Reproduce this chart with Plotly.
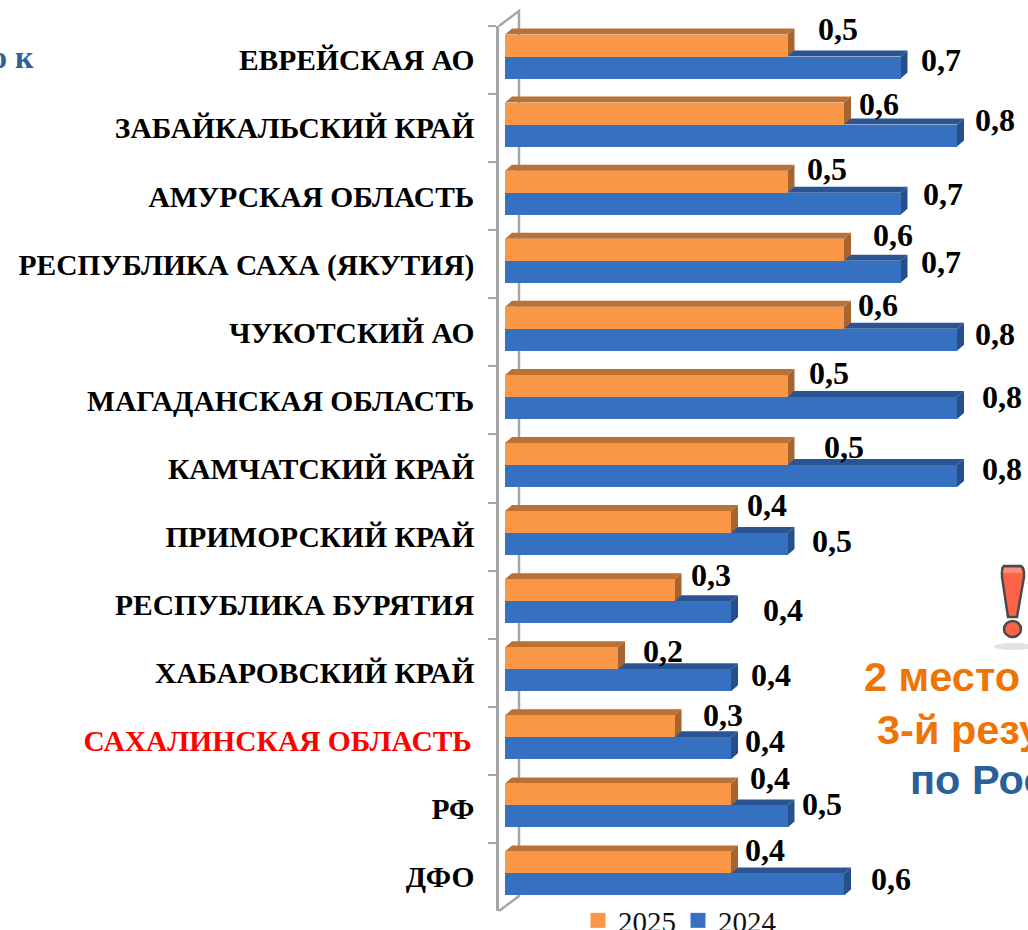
import plotly.graph_objects as go

CATEGORIES = ["ЕВРЕЙСКАЯ АО", "ЗАБАЙКАЛЬСКИЙ КРАЙ", "АМУРСКАЯ ОБЛАСТЬ", "РЕСПУБЛИКА САХА (ЯКУТИЯ)",
              "ЧУКОТСКИЙ АО", "МАГАДАНСКАЯ ОБЛАСТЬ", "КАМЧАТСКИЙ КРАЙ", "ПРИМОРСКИЙ КРАЙ",
              "РЕСПУБЛИКА БУРЯТИЯ", "ХАБАРОВСКИЙ КРАЙ", "САХАЛИНСКАЯ ОБЛАСТЬ", "РФ", "ДФО"]
HIGHLIGHT = "САХАЛИНСКАЯ ОБЛАСТЬ"
VALUES_2025 = [0.5, 0.6, 0.5, 0.6, 0.6, 0.5, 0.5, 0.4, 0.3, 0.2, 0.3, 0.4, 0.4]
VALUES_2024 = [0.7, 0.8, 0.7, 0.7, 0.8, 0.8, 0.8, 0.5, 0.4, 0.4, 0.4, 0.5, 0.6]

# free-floating data-label nudges, in pixels
SHIFT_X_2025 = [50, 35, 39, 49, 34, 41, 56, 36, 36, 45, 48, 39, 34]
SHIFT_Y_2025 = [31, 24, 27, 29, 27, 27, 22, 32, 30, 22, 26, 31, 27]
SHIFT_X_2024 = [40, 38, 42, 40, 38, 45, 45, 44, 52, 40, 34, 34, 47]
SHIFT_Y_2024 = [0, 8, 2, 2, -2, 3, 0, -4, -5, -2, 0, 5, -2]

W, H = 1028, 930
PLOT_L, PLOT_T, PLOT_B = 499, 26, 911
PX_PER_UNIT = 565.0
PX_PER_ROW = (PLOT_B - PLOT_T) / len(CATEGORIES)
ZERO_PX = 505

ORANGE, ORANGE_TOP, ORANGE_SIDE = "#F99747", "#BA7136", "#A7642E"
BLUE, BLUE_TOP, BLUE_SIDE = "#3671C1", "#2A5492", "#25508C"
GREY = "#A6A6A6"
SERIF = "Liberation Serif"
SANS = "Liberation Sans"

labels = [(f'<span style="color:#FF0000">{c}\u200a</span>' if c == HIGHLIGHT else c) for c in CATEGORIES]

BAR_ROWS = 22 / PX_PER_ROW
SHIFT_ROWS = -3.5 / PX_PER_ROW
DX = 7 / PX_PER_UNIT
DY = 6 / PX_PER_ROW


def px_x(px):
    return (px - PLOT_L) / (W - PLOT_L)


def px_y(px):
    return (PLOT_B - px) / (PLOT_B - PLOT_T)


def para(x0, x1, y0, y1, color):
    return dict(type="path", layer="below", xref="x", yref="y", line=dict(width=0), fillcolor=color,
                path=f"M{x0},{y0} L{x0 + DX},{y0 - DY} L{x1 + DX},{y1 - DY} L{x1},{y1} Z")


def box3d(value, top, bottom, top_color, side_color):
    return [
        para(0, value, top, top, top_color),
        dict(type="path", layer="below", xref="x", yref="y", line=dict(width=0), fillcolor=side_color,
             path=f"M{value},{top} L{value + DX},{top - DY} L{value + DX},{bottom - DY} L{value},{bottom} Z"),
    ]


def pxpath(points, close=True):
    return "M" + " L".join(f"{px_x(a)},{px_y(b)}" for a, b in points) + (" Z" if close else "")


n = len(CATEGORIES)
shapes = []
# wall frame of the 3-D chart box
shapes.append(dict(type="path", layer="below", xref="paper", yref="paper", line=dict(color=GREY, width=2.5),
                   path=pxpath([(PLOT_L, PLOT_T), (PLOT_L + 20, PLOT_T - 15), (PLOT_L + 20, PLOT_B - 15), (PLOT_L, PLOT_B)], close=False)))
for i, v24 in enumerate(VALUES_2024):
    mid = i + SHIFT_ROWS
    shapes += box3d(v24, mid, mid + BAR_ROWS, BLUE_TOP, BLUE_SIDE)
for i, v25 in enumerate(VALUES_2025):
    mid = i + SHIFT_ROWS
    shapes += box3d(v25, mid - BAR_ROWS, mid, ORANGE_TOP, ORANGE_SIDE)

# exclamation mark pictogram
shapes += [
    dict(type="circle", xref="paper", yref="paper", x0=px_x(994), x1=px_x(1032), y0=px_y(650), y1=px_y(643),
         fillcolor="#E2E2E2", line=dict(width=0)),
    dict(type="path", xref="paper", yref="paper", fillcolor="#FF6347", line=dict(color="#4A4A4A", width=2.5),
         path=pxpath([(1004, 566), (1021, 566), (1023, 568), (1024, 572), (1024, 577), (1017, 617), (1008, 617),
                      (1002, 577), (1002, 572), (1002.5, 568)])),
    dict(type="path", xref="paper", yref="paper", fillcolor="#FF8B78", line=dict(width=0),
         path=pxpath([(1004, 568), (1021, 568), (1022, 573), (1003, 573)])),
    dict(type="circle", xref="paper", yref="paper", x0=px_x(1004), x1=px_x(1021), y0=px_y(637), y1=px_y(621),
         fillcolor="#FF6347", line=dict(color="#4A4A4A", width=2.5)),
]

annotations = []
LABEL_FONT = dict(family=SERIF, size=32, color="#000000", weight=700)
for i, c in enumerate(labels):
    annotations.append(dict(x=VALUES_2025[i], y=c, xref="x", yref="y", text=f"{VALUES_2025[i]}".replace(".", ","),
                            xshift=SHIFT_X_2025[i], yshift=SHIFT_Y_2025[i], showarrow=False, font=LABEL_FONT))
    annotations.append(dict(x=VALUES_2024[i], y=c, xref="x", yref="y", text=f"{VALUES_2024[i]}".replace(".", ","),
                            xshift=SHIFT_X_2024[i], yshift=SHIFT_Y_2024[i], showarrow=False, font=LABEL_FONT))

side_texts = [("2 место в ДФО", 862, 676, "#EE7505"), ("3-й результат", 875, 729, "#EE7505"), ("по России", 908, 779, "#2A6099")]
for text, px, py, col in side_texts:
    annotations.append(dict(xref="paper", yref="paper", x=px_x(px), y=px_y(py), xanchor="left", yanchor="middle",
                            text=text, showarrow=False, font=dict(family=SANS, size=41.5, color=col, weight=700)))
annotations.append(dict(xref="paper", yref="paper", x=px_x(36), y=px_y(57), xanchor="right", yanchor="middle",
                        text="о к", showarrow=False, font=dict(family=SERIF, size=32, color="#2F5F97", weight=700)))

fig = go.Figure()
fig.add_bar(name="2025", y=labels, x=VALUES_2025, orientation="h", marker=dict(color=ORANGE, line=dict(width=0)),
            offset=SHIFT_ROWS - BAR_ROWS, width=BAR_ROWS, showlegend=False)
fig.add_bar(name="2024", y=labels, x=VALUES_2024, orientation="h", marker=dict(color=BLUE, line=dict(width=0)),
            offset=SHIFT_ROWS, width=BAR_ROWS, showlegend=False)
for name, col in (("2025", ORANGE), ("2024", BLUE)):
    fig.add_scatter(name=name, x=[None], y=[None], mode="markers", marker=dict(symbol="square", size=15, color=col))

fig.update_layout(
    width=W, height=H, autosize=False, barmode="overlay", bargap=0,
    paper_bgcolor="white", plot_bgcolor="rgba(0,0,0,0)",
    margin=dict(l=PLOT_L, r=0, t=PLOT_T, b=H - PLOT_B, autoexpand=False),
    xaxis=dict(visible=False, range=[(PLOT_L - ZERO_PX) / PX_PER_UNIT, (W - ZERO_PX) / PX_PER_UNIT], showgrid=False, zeroline=False),
    yaxis=dict(type="category", categoryorder="array", categoryarray=labels, range=[n - 0.5, -0.5],
               tickson="boundaries", ticks="outside", ticklen=8, tickwidth=2, tickcolor=GREY,
               showline=True, linecolor=GREY, linewidth=2.5, showgrid=False, dtick=1, ticklabelstandoff=16,
               tickfont=dict(family=SERIF, size=29.5, color="#000000", weight=700), automargin=False),
    legend=dict(orientation="h", x=px_x(578), xanchor="left", y=px_y(895), yanchor="top",
                entrywidth=55, entrywidthmode="pixels",
                font=dict(family=SERIF, size=29, color="#111111"), bgcolor="rgba(0,0,0,0)"),
    shapes=shapes, annotations=annotations,
)
fig.write_html("out.html", config={"displayModeBar": False},
               post_script="document.body.style.margin='0';document.body.style.overflow='hidden';")
